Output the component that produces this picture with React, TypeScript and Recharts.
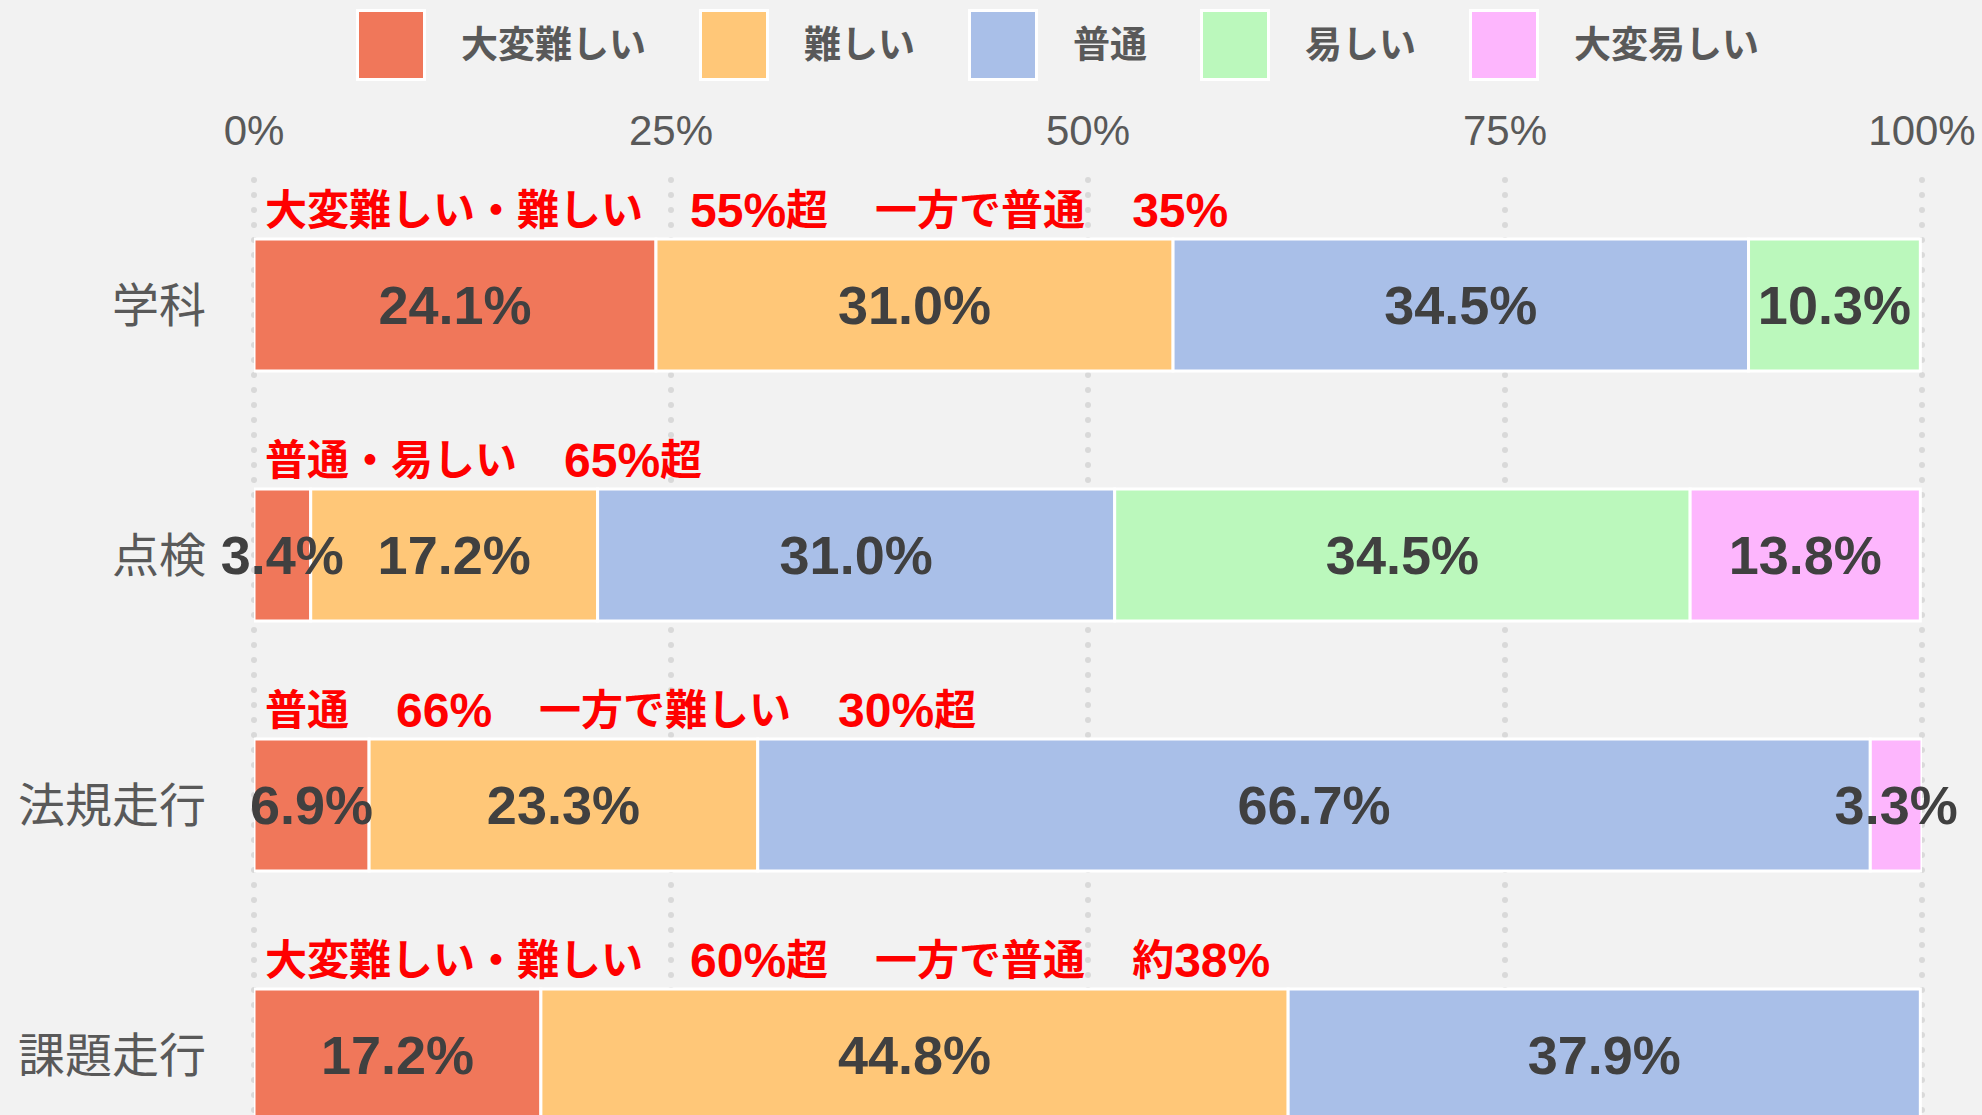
import { BarChart, Bar, XAxis, YAxis, CartesianGrid, LabelList } from 'recharts'

const categories = ['学科', '点検', '法規走行', '課題走行']
const veryHard = [24.1, 3.4, 6.9, 17.2]
const hard = [31.0, 17.2, 23.3, 44.8]
const normal = [34.5, 31.0, 66.7, 37.9]
const easy = [10.3, 34.5, 0, 0]
const veryEasy = [0, 13.8, 3.3, 0]
const notes = [
  '大変難しい・難しい　55%超　一方で普通　35%',
  '普通・易しい　65%超',
  '普通　66%　一方で難しい　30%超',
  '大変難しい・難しい　60%超　一方で普通　約38%',
]
const xTicks = [0, 25, 50, 75, 100]
const seriesNames = ['大変難しい', '難しい', '普通', '易しい', '大変易しい']
const seriesKeys = ['veryHard', 'hard', 'normal', 'easy', 'veryEasy']
const seriesColors = ['#f0775a', '#ffc778', '#a9bfe8', '#bbf8bc', '#fdb6fd']

const data = categories.map((name, i) => ({
  name,
  veryHard: veryHard[i],
  hard: hard[i],
  normal: normal[i],
  easy: easy[i],
  veryEasy: veryEasy[i],
  note: notes[i],
}))

const FONT = '"Liberation Sans", Arial, "Noto Sans CJK JP", sans-serif'

// red comment above each bar; numbers and gaps a bit bigger than the kanji
const renderNote = (props: any) => {
  const x = props.viewBox?.x ?? props.x
  const y = props.viewBox?.y ?? props.y
  const parts = String(props.value).split(/(\d+%|　)/)
  return (
    <text
      x={Number(x) + 11}
      y={Number(y) - 29}
      fill="#ff0000"
      fontSize={42}
      fontWeight="bold"
      dominantBaseline="central"
    >
      {parts.map((p, i) => {
        if (p === '　') return <tspan key={i} fontSize={47}>{p}</tspan>
        if (i % 2) return <tspan key={i} fontSize={48}>{p}</tspan>
        return <tspan key={i}>{p}</tspan>
      })}
    </text>
  )
}

const pct = (v: any) => (v ? `${Number(v).toFixed(1)}%` : '')

export default function App() {
  return (
    <div
      style={{
        position: 'relative',
        width: 1982,
        height: 1115,
        overflow: 'hidden',
        background: '#f2f2f2',
        fontFamily: FONT,
      }}
    >
      <style>{'body{margin:0;overflow:hidden;background:#f2f2f2}'}</style>
      <div
        style={{
          position: 'absolute',
          top: 9,
          left: 356,
          display: 'flex',
          alignItems: 'center',
          gap: 53,
        }}
      >
        {seriesNames.map((n, i) => (
          <div key={n} style={{ display: 'flex', alignItems: 'center' }}>
            <div
              style={{
                width: 64,
                height: 66,
                background: seriesColors[i],
                border: '3px solid #fff',
                marginRight: 35,
              }}
            />
            <span
              style={{
                fontSize: 37,
                fontWeight: 'bold',
                color: '#595959',
                lineHeight: 1,
              }}
            >
              {n}
            </span>
          </div>
        ))}
      </div>
      <BarChart
        width={1982}
        height={1180}
        data={data}
        layout="vertical"
        barSize={132}
        margin={{ top: 100, right: 60, bottom: 0, left: 0 }}
      >
        <CartesianGrid
          horizontal={false}
          stroke="#d9d9d9"
          strokeWidth={6}
          strokeDasharray="0 15"
          strokeLinecap="round"
        />
        <XAxis
          type="number"
          orientation="top"
          domain={[0, 100]}
          allowDataOverflow
          ticks={xTicks}
          tickFormatter={(v) => `${v}%`}
          height={80}
          axisLine={false}
          tickLine={false}
          tickSize={0}
          tickMargin={35}
          tick={{ fill: '#595959', fontSize: 42 }}
        />
        <YAxis
          type="category"
          dataKey="name"
          width={254}
          axisLine={false}
          tickLine={false}
          tickSize={0}
          tickMargin={48}
          tick={{ fill: '#595959', fontSize: 47 }}
        />
        {seriesKeys.map((k, i) => (
          <Bar
            key={k}
            dataKey={k}
            name={seriesNames[i]}
            stackId="a"
            fill={seriesColors[i]}
            stroke="#ffffff"
            strokeWidth={3}
            isAnimationActive={false}
          >
            <LabelList
              dataKey={k}
              position="center"
              formatter={pct}
              fill="#404040"
              fontSize={54}
              fontWeight="bold"
            />
            {i === 0 && <LabelList dataKey="note" content={renderNote} />}
          </Bar>
        ))}
      </BarChart>
    </div>
  )
}
